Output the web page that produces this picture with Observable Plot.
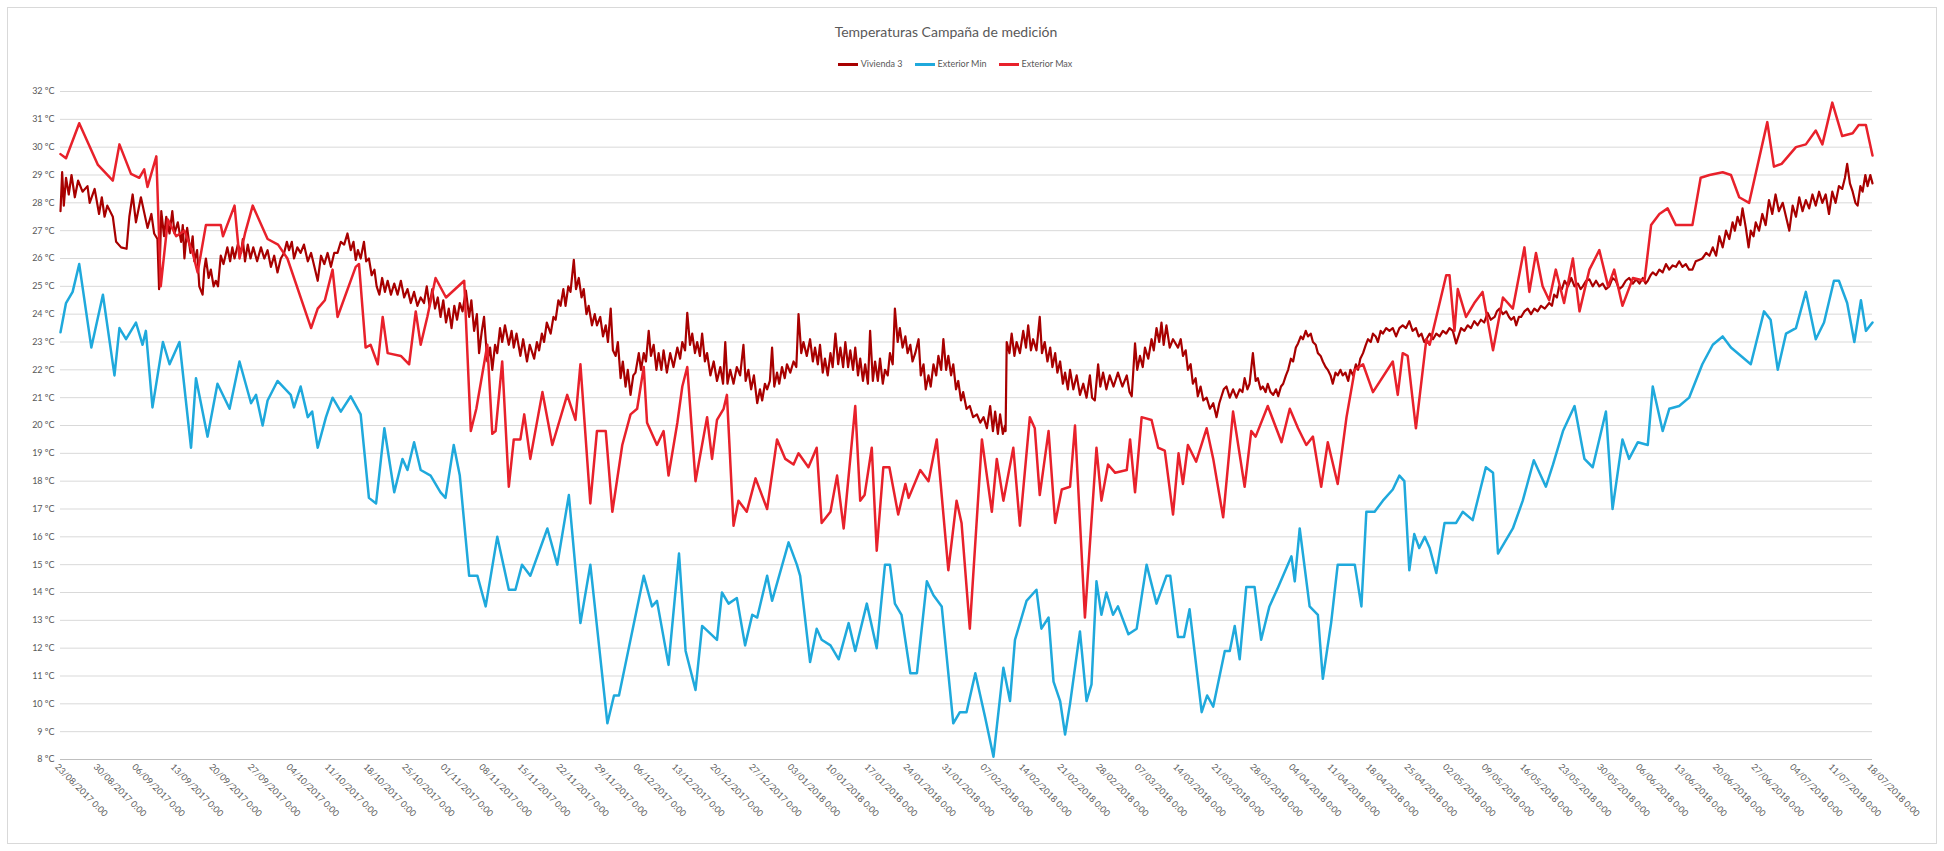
<!DOCTYPE html>
<html><head><meta charset="utf-8">
<script src="https://cdn.jsdelivr.net/npm/d3@7"></script>
<script src="https://cdn.jsdelivr.net/npm/@observablehq/plot@0.6"></script>
<style>
body{margin:0;background:#fff;}
#wrap{position:relative;width:1944px;height:851px;font-family:Lato,"Open Sans",sans-serif;overflow:hidden;}
#frame{position:absolute;left:7px;top:7px;width:1930px;height:837px;border:1px solid #d9d9d9;box-sizing:border-box;}
#title{position:absolute;top:23px;left:-26px;width:1944px;text-align:center;font-size:14px;color:#595959;}
#legend{position:absolute;top:58px;left:-17px;width:1944px;display:flex;justify-content:center;gap:12px;font-size:9px;color:#595959;align-items:center;}
#legend span.sw{display:inline-block;width:20px;height:3px;margin-right:3px;vertical-align:middle;}
#chart{position:absolute;left:0;top:80px;}
</style></head>
<body><div id="wrap"><div id="frame"></div>
<div id="title">Temperaturas Campaña de medición</div>
<div id="legend"></div>
<div id="chart"></div></div>
<script>
const seriesNames = ["Vivienda 3", "Exterior Min", "Exterior Max"];
const seriesColors = ["#a80000", "#1fa9dc", "#e8212b"];
const seriesWidths = [2.2, 2.5, 2.5];
const startDate = "2017-08-23";
const yTicks = [8,9,10,11,12,13,14,15,16,17,18,19,20,21,22,23,24,25,26,27,28,29,30,31,32];
const tickDates = ["2017-08-23","2017-08-30","2017-09-06","2017-09-13","2017-09-20","2017-09-27","2017-10-04","2017-10-11","2017-10-18","2017-10-25","2017-11-01","2017-11-08","2017-11-15","2017-11-22","2017-11-29","2017-12-06","2017-12-13","2017-12-20","2017-12-27","2018-01-03","2018-01-10","2018-01-17","2018-01-24","2018-01-31","2018-02-07","2018-02-14","2018-02-21","2018-02-28","2018-03-07","2018-03-14","2018-03-21","2018-03-28","2018-04-04","2018-04-11","2018-04-18","2018-04-25","2018-05-02","2018-05-09","2018-05-16","2018-05-23","2018-05-30","2018-06-06","2018-06-13","2018-06-20","2018-06-27","2018-07-04","2018-07-11","2018-07-18"];

// [day offset from startDate, temperature ºC]
const exteriorMax = [[0,29.75],[1,29.6],[3.4,30.86],[6.8,29.36],[9.5,28.8],[10.7,30.1],[12.8,29.04],[14.3,28.9],[15.2,29.2],[15.8,28.57],[17.4,29.67],[18.2,25.0],[19.5,27.4],[21,26.8],[22.5,27.0],[24,26.2],[24.9,25.5],[26.4,27.2],[29.1,27.2],[29.5,26.8],[31.6,27.9],[32.5,26.0],[33.5,26.9],[34.9,27.9],[37.6,26.7],[39.5,26.5],[41.2,26.0],[45.5,23.5],[46.7,24.2],[48,24.5],[49.4,25.6],[50.3,23.9],[53.6,25.7],[54.2,25.8],[55.4,22.8],[56.3,22.9],[57.6,22.2],[58.5,23.9],[59.4,22.6],[61.8,22.5],[63.3,22.2],[64.5,24.1],[65.4,22.9],[66.6,23.9],[68.1,25.3],[70,24.6],[73.3,25.2],[74.5,19.8],[75.5,20.6],[77.5,22.9],[78.4,19.7],[79,19.8],[80.2,22.3],[81.4,17.8],[82.3,19.5],[83.5,19.5],[84.2,20.4],[85.3,18.8],[87.5,21.2],[89.3,19.3],[92.0,21.1],[93.5,20.2],[94.4,22.2],[96.2,17.2],[97.4,19.8],[99.0,19.8],[100.2,16.9],[102,19.3],[103.5,20.4],[104.7,20.6],[105.9,22.1],[106.5,20.1],[108.3,19.3],[109.5,19.8],[110.4,18.2],[112.0,20.1],[112.9,21.4],[113.8,22.1],[115.3,18.0],[117.4,20.3],[118.3,18.8],[119.2,20.2],[120.4,20.6],[121.0,21.1],[122.2,16.4],[123.1,17.3],[124.6,16.9],[126.2,18.1],[128.3,17.0],[130.1,19.5],[131.6,18.8],[133.1,18.6],[134.0,19.0],[135.8,18.5],[137.3,19.2],[138.2,16.5],[139.8,16.9],[141.0,18.2],[142.2,16.3],[144.3,20.7],[145.2,17.3],[146,17.5],[147.3,19.2],[148.2,15.5],[149.4,18.5],[150.5,18.5],[152.1,16.8],[153.4,17.9],[154,17.4],[156.1,18.4],[157.6,18.0],[159.1,19.5],[161.2,14.8],[162.7,17.3],[163.6,16.5],[165.1,12.7],[167.3,19.5],[169.1,16.9],[170,18.8],[171.2,17.3],[173.0,19.2],[174.2,16.4],[176.0,20.3],[176.9,19.9],[177.8,17.5],[179.4,19.8],[180.6,16.5],[181.8,17.7],[183.3,17.8],[184.2,20.0],[186.0,13.1],[188.1,19.2],[189.0,17.3],[190.2,18.6],[191.5,18.3],[193.6,18.4],[194.2,19.5],[195.1,17.6],[196.3,20.3],[198.1,20.2],[199.3,19.2],[200.5,19.1],[202.0,16.8],[203,19.0],[203.8,17.9],[204.7,19.3],[206.2,18.7],[208.1,19.9],[209.3,18.8],[211.1,16.7],[212.9,20.5],[215.0,17.8],[216.2,19.8],[217,19.6],[219.2,20.7],[221.7,19.4],[223.2,20.6],[224.7,19.9],[226.2,19.3],[227.4,19.6],[228.9,17.8],[230.1,19.4],[231.9,17.9],[233.5,20.3],[235.0,22.0],[236.5,22.2],[238.3,21.2],[241.9,22.3],[242.8,21.1],[243.7,22.6],[244.6,22.5],[246.1,19.9],[248.0,23.1],[248.6,22.9],[249.8,23.9],[251.6,25.4],[252.2,25.4],[253.1,23.4],[253.7,24.9],[255.2,23.9],[256.7,24.4],[258.2,24.8],[260.1,22.7],[261.9,24.6],[263.7,24.2],[265.8,26.4],[266.7,24.8],[267.9,26.2],[269.1,25.0],[270.3,24.5],[271.5,25.6],[273,24.4],[274.6,26.0],[275.8,24.1],[277.6,25.6],[279.4,26.3],[281,25.0],[282.1,25.6],[283.6,24.3],[285.5,25.3],[287.6,25.2],[288.8,27.2],[290.3,27.6],[291.8,27.8],[293.3,27.2],[296.3,27.2],[297.8,28.9],[299.4,29.0],[301.8,29.1],[303.3,29.0],[304.8,28.2],[306.6,28.0],[309.9,30.9],[311.1,29.3],[312.5,29.4],[315.1,30.0],[316.9,30.1],[318.7,30.6],[319.9,30.1],[321.7,31.6],[323.5,30.4],[325.4,30.5],[326.5,30.8],[327.8,30.8],[329.0,29.7]];

const exteriorMin = [[0,23.35],[1.0,24.4],[2.2,24.8],[3.4,25.8],[5.6,22.8],[7.7,24.7],[9.8,21.8],[10.7,23.5],[11.9,23.1],[13.7,23.7],[14.9,22.9],[15.5,23.4],[16.7,20.65],[18.6,23.0],[19.8,22.2],[21.6,23.0],[23.7,19.2],[24.6,21.7],[26.7,19.6],[28.5,21.5],[30.7,20.6],[32.5,22.3],[34.6,20.8],[35.5,21.1],[36.7,20.0],[37.6,20.9],[39.4,21.6],[41.8,21.1],[42.4,20.65],[43.6,21.4],[44.9,20.3],[45.7,20.5],[46.7,19.2],[48.2,20.3],[49.4,21.0],[50.9,20.5],[52.7,21.05],[54.5,20.4],[56.0,17.4],[57.3,17.2],[58.8,19.9],[60.6,17.6],[62.1,18.8],[63.0,18.4],[64.2,19.4],[65.4,18.4],[67.2,18.2],[69.0,17.6],[69.9,17.4],[71.4,19.3],[72.5,18.2],[74.2,14.6],[75.7,14.6],[77.2,13.5],[79.3,16.0],[81.4,14.1],[82.6,14.1],[83.8,15.0],[85.3,14.6],[88.4,16.3],[90.2,15.0],[92.3,17.5],[94.4,12.9],[96.2,15.0],[99.3,9.3],[100.5,10.3],[101.4,10.3],[105.9,14.6],[107.4,13.5],[108.3,13.7],[110.4,11.4],[112.3,15.4],[113.5,11.9],[115.3,10.5],[116.5,12.8],[119.2,12.3],[120.1,14.0],[121.3,13.6],[122.8,13.8],[124.3,12.1],[125.6,13.2],[126.5,13.1],[128.3,14.6],[129.2,13.7],[132.2,15.8],[133.7,15.0],[134.3,14.6],[136.1,11.5],[137.3,12.7],[138.2,12.3],[139.8,12.1],[141.3,11.6],[143.1,12.9],[144.3,11.9],[146.4,13.6],[148.2,12.0],[149.7,15.0],[150.6,15.0],[151.5,13.6],[152.7,13.2],[154.3,11.1],[155.5,11.1],[157.3,14.4],[158.5,13.9],[160.0,13.5],[162.1,9.3],[163.3,9.7],[164.5,9.7],[166.1,11.1],[167.9,9.5],[169.4,8.1],[171.2,11.3],[172.4,10.1],[173.3,12.3],[175.4,13.7],[177.2,14.1],[178.1,12.7],[179.4,13.1],[180.3,10.8],[181.5,10.1],[182.4,8.9],[183.3,10.0],[185.1,12.6],[186.3,10.1],[187.2,10.7],[188.1,14.4],[189.0,13.2],[189.9,14.0],[191.1,13.2],[192.0,13.5],[193.9,12.5],[195.4,12.7],[197.2,15.0],[199.0,13.6],[200.8,14.6],[201.5,14.6],[202.9,12.4],[204.0,12.4],[205.0,13.4],[207.2,9.7],[208.2,10.3],[209.3,9.9],[211.4,11.9],[212.3,11.9],[213.2,12.8],[214.1,11.6],[215.3,14.2],[216.8,14.2],[218.0,12.3],[219.5,13.5],[221.1,14.2],[223.5,15.3],[224.1,14.4],[225.0,16.3],[226.8,13.5],[228.3,13.2],[229.2,10.9],[230.7,12.9],[231.9,15.0],[233.7,15.0],[235.0,15.0],[236.2,13.5],[237.1,16.9],[238.6,16.9],[240.1,17.3],[241.9,17.7],[243.1,18.2],[244.0,18.0],[244.9,14.8],[245.8,16.1],[246.7,15.6],[247.7,16.0],[248.6,15.6],[249.8,14.7],[251.3,16.5],[253.4,16.5],[254.6,16.9],[256.4,16.6],[258.8,18.5],[260.1,18.3],[261.0,15.4],[263.7,16.3],[265.5,17.3],[267.5,18.75],[269.7,17.8],[271,18.6],[272.8,19.8],[274.9,20.7],[276.7,18.8],[278.2,18.5],[280.6,20.5],[281.8,17.0],[283.6,19.5],[284.8,18.8],[286.4,19.4],[288.2,19.3],[289.1,21.4],[290.9,19.8],[292.1,20.6],[293.9,20.7],[295.7,21.0],[298.1,22.2],[300.0,22.9],[301.8,23.2],[303.3,22.8],[306.9,22.2],[309.3,24.1],[310.5,23.8],[311.8,22.0],[313.3,23.3],[315.1,23.5],[316.9,24.8],[318.7,23.1],[320.2,23.7],[322.0,25.2],[322.9,25.2],[324.4,24.4],[325.7,23.0],[326.9,24.5],[327.8,23.4],[329.0,23.7]];

const vivienda3 = [[0,27.7],[0.3,29.1],[0.6,27.9],[1.0,28.9],[1.5,28.3],[2.0,29.0],[2.6,28.2],[3.2,28.8],[4.0,28.4],[4.9,28.6],[5.3,28.0],[6.2,28.5],[7.0,27.6],[7.5,28.2],[8.0,27.5],[8.5,27.9],[9.5,27.5],[10.1,26.6],[11.0,26.4],[12.0,26.35],[12.5,27.5],[13.1,28.3],[13.7,27.3],[14.6,28.2],[15.8,27.1],[16.5,27.6],[17.0,26.9],[17.6,26.7],[17.9,24.9],
[18.3,27.7],[18.8,26.8],[19.2,27.5],[19.8,26.9],[20.3,27.7],[20.7,26.9],[21.3,27.3],[21.9,26.6],[22.2,27.2],[22.5,26.0],[23.0,27.1],[23.6,26.2],[24.0,26.8],[24.3,25.9],[24.8,26.3],[25.2,25.0],[25.8,24.7],[26.1,25.6],[26.4,26.0],[26.9,25.3],[27.3,25.6],[27.8,25.0],[28.2,25.2],[28.6,25.0],[29.1,26.1],[29.6,25.8],[30.3,26.4],[30.8,25.9],[31.2,26.4],[31.6,26.0],[32.2,26.5],[32.8,26.2],[33.1,26.7],[33.5,25.9],[34.0,26.5],[34.5,26.0],[35.0,26.4],[35.7,25.9],[36.4,26.4],[37.0,26.0],[37.6,26.3],[38.2,25.7],[38.8,26.1],[39.4,25.5],[40.0,26.0],[40.6,26.2],[41.1,26.6],[41.5,26.3],[42.0,26.6],[42.4,26.0],[43.0,26.4],[43.6,26.2],[44.2,26.5],[44.9,25.9],[45.5,26.2],[46.1,25.7],[46.7,25.2],[47.3,26.1],[47.9,25.8],[48.5,26.2],[49.1,25.7],[49.7,26.2],[50.3,26.2],[50.9,26.6],[51.5,26.5],[52.1,26.9],[52.7,26.3],[53.2,26.6],[53.6,25.95],[54.0,26.3],[54.5,26.0],[55.1,26.6],[55.5,25.9],[56.0,26.0],[56.5,25.4],[57.0,25.6],[57.4,25.0],[57.9,24.7],[58.4,25.3],[58.9,24.8],[59.4,25.2],[60.0,24.7],[60.6,25.1],[61.2,24.7],[61.8,25.2],[62.4,24.6],[63.0,24.9],[63.6,24.4],[64.2,24.8],[64.8,24.3],[65.4,24.6],
[66,24.4],[66.5,25.0],[67,24.3],[67.5,24.9],[68,24.2],[68.5,24.6],[69,23.9],[69.5,24.5],[70,23.7],[70.5,24.2],[71,23.5],[71.5,24.3],[72,23.8],[72.5,24.4],[73,24.1],[73.6,24.85],[74.2,23.9],[74.6,24.5],[75.1,23.4],[75.6,24.0],[76.0,22.6],[76.5,23.4],[76.9,23.9],[77.5,22.3],[78,22.8],[78.4,22.0],[78.9,22.9],[79.3,22.6],[79.8,23.5],[80.2,23.0],[80.7,23.6],[81.4,22.9],[81.9,23.4],[82.3,22.8],[82.8,23.3],[83.5,22.5],[84,23.1],[84.7,22.3],[85.2,22.9],[86.0,22.4],[86.5,23.0],[86.9,22.7],[87.4,23.3],[87.8,23.0],[88.3,23.7],[89.0,23.3],[89.5,23.9],[89.9,23.8],[90.4,24.5],[90.8,24.3],[91.3,24.9],[91.7,24.3],[92.2,25.0],[92.6,24.8],[93.2,25.95],[93.6,24.9],[94.1,25.3],[94.6,24.6],[95.0,24.9],[95.5,24.0],[95.9,24.3],[96.5,23.6],[97,24.0],[97.4,23.6],[98,23.9],[98.5,23.2],[99.0,23.6],[99.4,23.0],[99.9,24.2],[100.3,22.7],[100.8,22.5],[101.2,23.0],[101.7,21.7],[102.1,22.3],[102.6,21.4],[103.0,22.0],[103.5,21.1],[104.0,21.8],[104.4,21.9],[105.0,22.6],[105.4,22.0],[105.9,22.6],[106.3,22.3],[106.8,23.4],[107.2,22.5],[107.7,22.9],[108.2,22.0],[108.6,22.6],[109.1,22.0],[109.5,22.7],[110.1,21.9],[110.7,22.6],[111.3,22.1],[112.0,22.8],[112.5,22.4],[112.9,23.0],[113.4,22.7],[113.8,24.05],[114.3,22.9],[114.7,23.3],[115.2,22.6],[115.6,23.0],[116.1,22.5],[116.5,23.3],[117.0,22.3],[117.4,22.6],[118.0,21.8],[118.6,22.3],[119.2,21.6],[119.8,22.1],[120.3,21.5],[120.7,23.0],[121.1,21.5],[121.6,22.0],[122.2,21.5],[122.8,22.1],[123.4,21.8],[124.0,22.9],[124.4,21.6],[124.9,22.0],[125.4,21.3],[125.9,21.8],[126.5,20.8],[127.0,21.3],[127.4,20.9],[127.9,21.5],[128.3,21.3],[128.8,21.6],[129.2,22.8],[129.6,21.4],[130.1,21.9],[130.5,21.5],[131.0,22.1],[131.5,21.7],[131.9,22.2],[132.5,21.9],[133.1,22.3],[133.6,22.1],[134.0,24.0],[134.5,22.6],[134.9,23.0],
[135.5,22.5],[136.1,23.1],[136.6,22.3],[137.0,22.8],[137.5,22.2],[137.9,22.9],[138.4,21.9],[138.8,22.4],[139.3,21.8],[139.8,22.6],[140.2,22.1],[140.7,23.3],[141.2,22.2],[141.6,22.8],[142.1,22.1],[142.5,23.0],[143.0,22.1],[143.4,22.7],[143.9,22.0],[144.3,22.8],[144.8,21.8],[145.2,22.4],[145.7,21.6],[146.1,22.2],[146.6,21.5],[147.0,23.4],[147.5,21.6],[147.9,22.3],[148.4,21.6],[148.8,22.4],[149.3,21.5],[149.7,22.0],[150.2,21.8],[150.6,22.6],[151.1,22.2],[151.5,24.2],[152.0,23.0],[152.4,23.5],[152.9,22.8],[153.4,23.2],[153.8,22.6],[154.3,22.9],[154.7,22.3],[155.2,22.6],[155.8,23.1],[156.2,21.8],[156.7,22.2],[157.1,21.3],[157.6,21.8],[158.0,21.4],[158.5,22.2],[159.0,21.8],[159.4,22.5],[159.9,22.0],[160.3,23.1],[160.8,22.0],[161.2,22.5],[161.7,21.8],[162.1,22.2],[162.6,21.3],[163.0,21.6],[163.5,20.9],[163.9,21.2],[164.5,20.6],[165.1,20.7],[165.7,20.3],[166.4,20.4],[167.0,20.1],[167.6,20.3],[168.2,19.9],[168.8,20.7],[169.3,19.8],[169.7,20.5],[170.2,19.7],[170.6,20.4],[171.1,19.7],[171.5,20.0],[171.6,19.8],[171.8,23.0],[172.3,22.6],[172.7,23.3],[173.2,22.5],[173.6,23.0],[174.2,22.6],[174.8,23.4],[175.3,22.8],[175.7,23.6],[176.2,22.7],[176.6,23.1],[177.2,22.7],[177.8,23.9],[178.2,22.6],[178.7,23.0],[179.2,22.3],[179.7,22.8],[180.1,22.1],[180.6,22.6],[181.0,21.9],[181.5,22.3],[182.0,21.5],[182.4,21.9],[182.9,21.3],[183.3,22.0],[183.9,21.3],[184.5,21.8],[185.1,21.1],[185.7,21.5],[186.3,21.0],[186.9,21.8],[187.3,21.0],[187.8,20.9],[188.4,22.2],[188.8,21.4],[189.3,21.9],[189.9,21.3],[190.5,21.8],[191.2,21.4],[192.0,21.9],[192.8,21.4],[193.6,21.8],[194.1,21.2],[194.5,21.05],[195.1,22.95],[195.5,22.0],[196.0,22.5],[196.5,22.1],[196.9,22.8],[197.5,22.4],[198.1,23.1],[198.5,22.7],[199.0,23.5],[199.5,23.0],[199.9,23.7],[200.3,22.9],[200.8,23.6],[201.4,22.8],[202.0,23.1],
[202.9,22.8],[203.4,23.1],[203.8,22.5],[204.3,22.7],[204.7,22.0],[205.2,22.2],[205.6,21.5],[206.1,21.7],[206.5,21.05],[207.0,21.4],[207.5,20.9],[208.1,21.0],[208.7,20.6],[209.3,20.8],[209.9,20.3],[210.4,20.8],[210.8,21.05],[211.2,21.3],[211.7,21.4],[212.3,21.0],[212.9,21.3],[213.5,21.0],[214.1,21.3],[214.6,21.2],[215.0,21.7],[215.5,21.3],[215.9,21.5],[216.5,22.6],[217.0,21.6],[217.4,21.7],[217.9,21.3],[218.3,21.4],[218.8,21.2],[219.2,21.5],[219.7,21.2],[220.2,21.1],[220.7,21.3],[221.1,21.05],[221.6,21.4],[222.0,21.5],[222.5,21.8],[222.9,22.0],[223.4,22.4],[223.8,22.3],[224.3,22.8],[224.7,22.95],[225.2,23.2],[225.6,23.1],[226.1,23.4],[226.5,23.2],[227.0,23.3],[227.4,23.0],[227.9,22.9],[228.3,22.6],[228.8,22.5],[229.2,22.3],[229.7,22.1],[230.1,22.0],[230.6,21.8],[231.0,21.5],[231.5,21.9],[231.9,21.8],[232.4,22.0],[232.8,21.8],[233.3,21.9],[233.8,21.6],[234.2,22.0],[234.7,21.8],[235.2,22.2],[235.6,22.0],[236.0,22.4],[236.5,22.6],[237.0,22.9],[237.4,23.1],[237.9,23.0],[238.3,23.3],[238.8,23.2],[239.2,23.0],[239.7,23.4],[240.1,23.3],[240.7,23.5],[241.3,23.4],[241.9,23.5],[242.5,23.2],[243.1,23.5],[243.7,23.6],[244.3,23.5],[244.9,23.75],[245.5,23.4],[246.1,23.5],[246.6,23.2],[247.1,23.3],[247.6,23.0],[248.0,23.1],[248.6,23.3],[249.2,23.1],[249.8,23.3],[250.4,23.2],[251.0,23.4],[251.6,23.3],[252.2,23.5],[252.8,23.4],[253.4,22.95],[254.3,23.5],[254.9,23.4],[255.5,23.6],[256.1,23.5],[256.7,23.75],[257.3,23.6],[257.9,23.8],[258.5,23.7],[259.1,24.05],[259.7,23.8],[260.4,23.9],[260.8,24.1],[261.3,24.2],[261.9,24.0],[262.5,24.1],[263.0,23.9],[263.4,23.8],[263.9,23.9],[264.3,23.6],[264.8,23.9],[265.2,23.9],[265.8,24.1],[266.4,24.2],[267.0,24.0],[267.6,24.2],[268.2,24.1],[268.8,24.3],[269.5,24.2],[270.3,24.4],[270.8,24.3],[271.2,24.7],[271.7,24.6],[272.1,25.0],[272.6,24.9],[273.1,25.2],[273.7,25.0],[274.3,25.3],[274.9,25.0],[275.5,25.1],[276.0,24.9],[276.4,25.0],[277.0,25.2],[277.6,25.25],[278.2,25.0],[278.8,25.2],[279.4,25.0],[280.0,25.1],[280.6,24.9],[281.2,25.0],[281.8,25.3],[282.4,25.2],[283.0,24.9],[283.6,25.0],[284.2,25.2],[284.8,25.3],[285.5,25.1],[286.1,25.25],[286.7,25.1],[287.3,25.3],[287.8,25.1],[288.2,25.2],[288.7,25.4],[289.1,25.5],[289.7,25.4],[290.3,25.6],[290.9,25.5],[291.5,25.8],[292.1,25.6],[292.7,25.75],[293.3,25.7],[293.9,25.9],[294.5,25.7],[295.1,25.8],[295.7,25.6],[296.3,25.6],[296.9,25.9],[297.5,25.95],[298.1,26.0],[298.8,26.2],[299.4,26.1],
[300.0,26.4],[300.6,26.1],[301.2,26.8],[301.8,26.4],[302.4,27.0],[303.0,26.7],[303.6,27.3],[304.0,27.0],[304.5,27.5],[305.0,27.2],[305.4,27.8],[306.0,27.1],[306.5,26.4],[306.9,27.0],[307.4,26.8],[307.8,27.3],[308.4,27.0],[309.0,27.6],[309.6,27.2],[310.2,28.1],[310.8,27.6],[311.4,28.3],[312.0,27.7],[312.7,28.0],[313.3,27.5],[313.9,27.0],[314.5,27.9],[315.1,27.5],[315.7,28.2],[316.3,27.7],[316.9,28.1],[317.5,27.8],[318.1,28.3],[318.7,27.9],[319.3,28.4],[319.9,28.0],[320.5,28.3],[321.1,27.6],[321.7,28.4],[322.3,28.0],[322.9,28.6],[323.5,28.5],[324.0,28.9],[324.4,29.4],[324.9,28.7],[325.4,28.4],[325.9,28.0],[326.3,27.9],[326.8,28.6],[327.2,28.4],[327.7,29.0],[328.1,28.6],[328.6,29.0],[329.0,28.7]];

const t0 = Date.parse(startDate + "T00:00:00Z");
const toDate = d => new Date(t0 + d * 864e5);
const rows = (arr, name) => arr.map(([d, v]) => ({date: toDate(d), t: v, serie: name}));
const seriesData = [rows(vivienda3, seriesNames[0]), rows(exteriorMin, seriesNames[1]), rows(exteriorMax, seriesNames[2])];
const ticks = tickDates.map(s => new Date(s + "T00:00:00Z"));
const fmt = d3.utcFormat("%d/%m/%Y 0:00");

const chart = Plot.plot({
  width: 1944, height: 760,
  marginLeft: 60, marginRight: 72, marginTop: 11, marginBottom: 81,
  style: {fontFamily: "Lato, 'Open Sans', sans-serif", fontSize: "9px", color: "#595959", background: "transparent"},
  x: {type: "utc", domain: [ticks[0], ticks[ticks.length - 1]], label: null},
  y: {domain: [8, 32], label: null},
  marks: [
    Plot.gridY(yTicks, {stroke: "#d9d9d9", strokeOpacity: 1, strokeWidth: 1}),
    Plot.ruleY([8], {stroke: "#bfbfbf"}),
    Plot.axisY(yTicks, {tickSize: 0, tickPadding: 6, tickFormat: d => d + " ºC", fill: "#595959", label: null}),
    Plot.axisX(ticks, {tickSize: 0, tickPadding: 6, tickRotate: 45, textAnchor: "start", tickFormat: fmt, fill: "#595959", dx: -4, label: null}),
    ...seriesData.map((s, i) => Plot.line(s, {x: "date", y: "t", stroke: seriesColors[i], strokeWidth: seriesWidths[i], strokeLinejoin: "round"}))
  ]
});
document.getElementById("chart").appendChild(chart);

const lg = document.getElementById("legend");
seriesNames.forEach((n, i) => {
  const it = document.createElement("div");
  it.innerHTML = `<span class="sw" style="background:${seriesColors[i]}"></span>${n}`;
  lg.appendChild(it);
});
</script></body></html>
